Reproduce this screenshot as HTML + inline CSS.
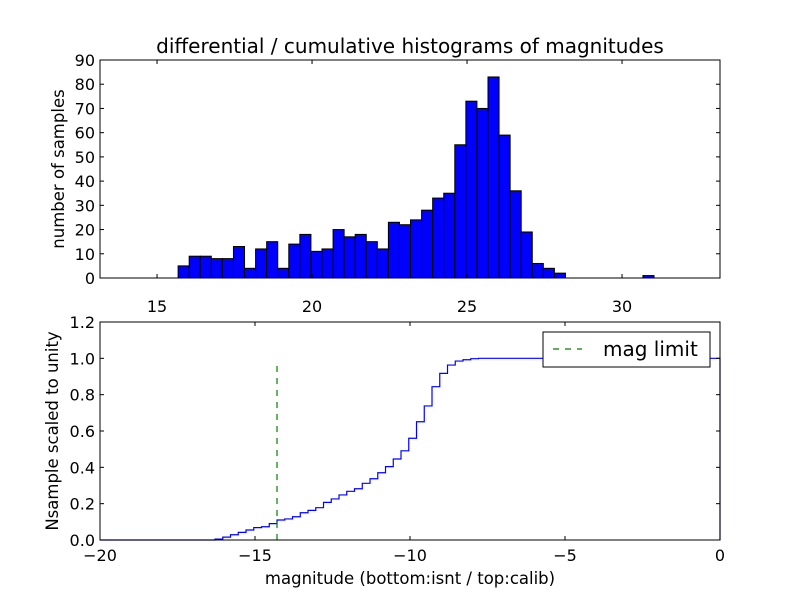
<!DOCTYPE html>
<html><head><meta charset="utf-8"><style>
html,body{margin:0;padding:0;background:#fff;}
svg{display:block;font-family:"DejaVu Sans","Liberation Sans",sans-serif;}
</style></head><body>
<svg id="fig" width="800" height="600" viewBox="0 0 800 600" xmlns="http://www.w3.org/2000/svg">
<rect width="800" height="600" fill="#fff"/>
<g id="topg"></g>
<g id="botg"></g>
</svg>
<script>
// Top histogram data
const histStart = 15.68;
const histBinWidth = 0.357;
const histCounts = [5,9,9,8,8,13,4,12,15,4,14,18,11,12,20,17,18,15,12,23,22,24,28,33,35,55,73,70,83,59,36,19,6,4,2,0,0,0,0,0,0,0,1];
const topXTicks = [15,20,25,30];
const topYTicks = [0,10,20,30,40,50,60,70,80,90];
// Bottom cumulative data
const cdfStart = -16.29;
const cdfStep = 0.25;
const cdfValues = [0.005,0.016,0.029,0.042,0.055,0.068,0.073,0.090,0.110,0.116,0.128,0.150,0.163,0.178,0.207,0.226,0.248,0.268,0.282,0.312,0.337,0.370,0.404,0.446,0.491,0.560,0.651,0.738,0.844,0.917,0.963,0.985,0.992,0.998,1.0];
const magLimit = -14.29;
const magLimitTop = 0.96;
const botXTicks = [-20,-15,-10,-5,0];
const botYTicks = [0,0.2,0.4,0.6,0.8,1.0,1.2];

const NS = "http://www.w3.org/2000/svg";
function mk(parent, tag, attrs, text){
  const e = document.createElementNS(NS, tag);
  for (const k in attrs) e.setAttribute(k, attrs[k]);
  if (text !== undefined) e.textContent = text;
  parent.appendChild(e); return e;
}
const topG = document.getElementById('topg');
const botG = document.getElementById('botg');

// Top axes
const tL=100,tR=720,tT=60,tB=278;
const tx = v => tL + (v-13.16)/(33.16-13.16)*(tR-tL);
const ty = v => tB - v/90*(tB-tT);
histCounts.forEach((c,i)=>{
  if(c<=0) return;
  const x0=tx(histStart+i*histBinWidth), x1=tx(histStart+(i+1)*histBinWidth);
  const r = mk(topG,'rect',{x:x0,y:ty(c),width:x1-x0,height:ty(0)-ty(c),fill:'#0000ff',stroke:'#000','stroke-width':1});
  
  
});
let f = mk(topG,'rect',{x:tL,y:tT,width:tR-tL,height:tB-tT,fill:'none',stroke:'#000','stroke-width':1});


topXTicks.forEach(v=>{
  const x=tx(v);
  mk(topG,'line',{x1:x,y1:tB,x2:x,y2:tB-4,stroke:'#000'});
  mk(topG,'line',{x1:x,y1:tT,x2:x,y2:tT+4,stroke:'#000'});
  const t=mk(topG,'text',{x:x,y:tB+34,'text-anchor':'middle','font-size':16},String(v));
  
  
});
topYTicks.forEach(v=>{
  const y=ty(v);
  mk(topG,'line',{x1:tL,y1:y,x2:tL+4,y2:y,stroke:'#000'});
  mk(topG,'line',{x1:tR,y1:y,x2:tR-4,y2:y,stroke:'#000'});
  const t=mk(topG,'text',{x:tL-5,y:y+6,'text-anchor':'end','font-size':16},String(v));
  
  
});
let tt=mk(topG,'text',{x:410,y:53,'text-anchor':'middle','font-size':20},'differential / cumulative histograms of magnitudes');


let yl=mk(topG,'text',{x:64,y:169,'text-anchor':'middle','font-size':16.5,transform:'rotate(-90 64 169)'},'number of samples');



// Bottom axes
const bL=100,bR=720,bT=322,bB=540;
const bx = v => bL + (v+20)/20*(bR-bL);
const by = v => bB - v/1.2*(bB-bT);
let d = `M${bL},${by(0)} L${bx(cdfStart)},${by(0)}`;
cdfValues.forEach((v,i)=>{
  const x0=bx(cdfStart+i*cdfStep);
  const x1 = i===cdfValues.length-1 ? bx(0) : bx(cdfStart+(i+1)*cdfStep);
  d += ` L${x0},${by(v)} L${x1},${by(v)}`;
});
d += ` L${bx(0)},${by(0)}`;
let p=mk(botG,'path',{d:d,fill:'none',stroke:'#0000ff','stroke-width':1.2});


let ml=mk(botG,'line',{x1:bx(magLimit),y1:by(0),x2:bx(magLimit),y2:by(magLimitTop),stroke:'#008000','stroke-width':1.2,'stroke-dasharray':'6,6'});


f = mk(botG,'rect',{x:bL,y:bT,width:bR-bL,height:bB-bT,fill:'none',stroke:'#000','stroke-width':1});


botXTicks.forEach(v=>{
  const x=bx(v);
  mk(botG,'line',{x1:x,y1:bB,x2:x,y2:bB-4,stroke:'#000'});
  mk(botG,'line',{x1:x,y1:bT,x2:x,y2:bT+4,stroke:'#000'});
  const t=mk(botG,'text',{x:x,y:bB+21,'text-anchor':'middle','font-size':16},v<0?'\u2212'+(-v):String(v));
  
  
});
botYTicks.forEach(v=>{
  const y=by(v);
  mk(botG,'line',{x1:bL,y1:y,x2:bL+4,y2:y,stroke:'#000'});
  mk(botG,'line',{x1:bR,y1:y,x2:bR-4,y2:y,stroke:'#000'});
  const t=mk(botG,'text',{x:bL-5,y:y+6,'text-anchor':'end','font-size':16},v.toFixed(1));
  
  
});
let xl=mk(botG,'text',{x:410,y:584,'text-anchor':'middle','font-size':16.5},'magnitude (bottom:isnt / top:calib)');


let yl2=mk(botG,'text',{x:58,y:431,'text-anchor':'middle','font-size':16.5,transform:'rotate(-90 58 431)'},'Nsample scaled to unity');



// Legend
const lg = mk(botG,'g',{});


mk(lg,'rect',{x:543,y:332,width:167,height:35,fill:'#fff',stroke:'#000','stroke-width':1});
mk(lg,'line',{x1:553,y1:349,x2:582,y2:349,stroke:'#008000','stroke-width':1.2,'stroke-dasharray':'6,6'});
const lt=mk(lg,'text',{x:603,y:356,'font-size':20},'mag limit');


</script>
</body></html>
